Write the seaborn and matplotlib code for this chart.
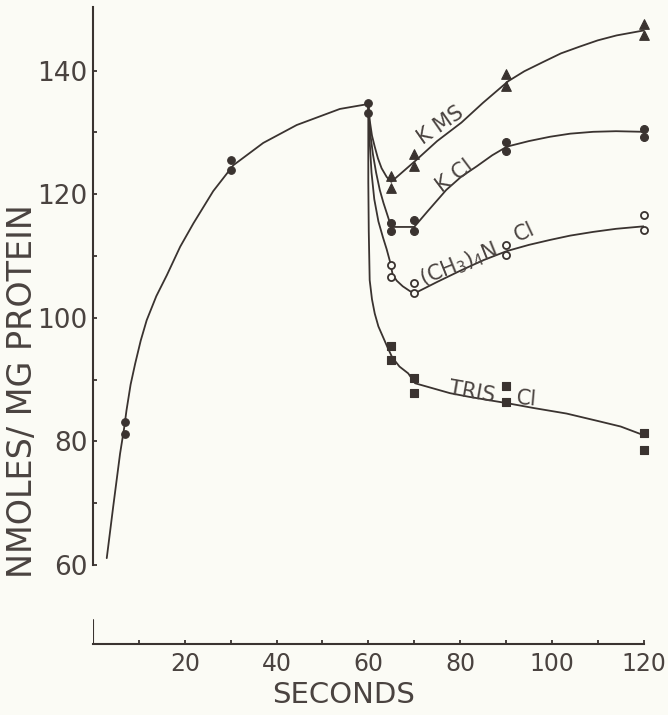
import numpy as np
import pandas as pd
import matplotlib
matplotlib.use("Agg")
import matplotlib.pyplot as plt
import seaborn as sns

# ---------------- data ----------------
# measured duplicates (seconds, nmoles / mg protein)
uptake_t = [7, 7, 30, 30, 60, 60]
uptake_v = [83.1, 81.2, 125.5, 123.9, 134.7, 133.1]

post_t = [65, 65, 70, 70, 90, 90, 120, 120]
kms_v = [122.9, 121.0, 126.5, 124.6, 139.5, 137.5, 147.6, 145.8]
kcl_v = [115.3, 114.0, 115.8, 114.1, 128.5, 127.0, 130.6, 129.3]
tma_v = [108.5, 106.6, 105.6, 104.0, 111.8, 110.2, 116.6, 114.2]
tris_v = [95.5, 93.2, 90.2, 87.9, 88.9, 86.3, 81.3, 78.6]

# hand-drawn fitted curves
init_curve_t = [3.0, 4.4, 5.9, 6.8, 7.3, 8.2, 9.2, 10.4, 11.7, 13.8, 16.1, 19.0,
                21.9, 26.2, 30.6, 37.1, 44.4, 53.8, 60.0]
init_curve_v = [61.1, 69.4, 78.0, 82.2, 85.0, 89.2, 92.6, 96.3, 99.6, 103.5, 106.9,
                111.5, 115.3, 120.5, 124.7, 128.3, 131.2, 133.8, 134.6]

kms_curve_t = [60.0, 60.3, 60.8, 61.4, 62.1, 62.9, 64.0, 65.0, 70.4, 75.0, 80.3,
               85.0, 90.5, 94.0, 98.1, 102.0, 106.1, 110.0, 114.1, 120.0]
kms_curve_v = [134.5, 132.0, 129.5, 127.7, 125.8, 124.2, 122.8, 122.0, 125.5, 128.6,
               131.6, 134.8, 138.3, 139.9, 141.4, 142.8, 143.9, 144.9, 145.7, 146.5]

kcl_curve_t = [60.0, 60.4, 61.0, 61.7, 62.5, 63.3, 64.0, 65.0, 70.0, 73.0, 77.0,
               80.2, 83.6, 87.0, 90.2, 95.0, 99.6, 104.0, 109.0, 114.0, 120.0]
kcl_curve_v = [134.5, 130.0, 126.5, 123.5, 120.7, 118.6, 117.0, 114.7, 114.7, 117.3,
               120.7, 122.8, 124.5, 126.3, 127.7, 128.6, 129.3, 129.8, 130.1, 130.2, 130.1]

tma_curve_t = [60.0, 60.3, 60.7, 61.3, 62.2, 63.2, 64.0, 64.8, 65.3, 66.2, 67.5,
               69.1, 70.2, 75.0, 80.0, 85.0, 90.2, 95.0, 99.6, 104.0, 109.0, 114.0, 120.0]
tma_curve_v = [134.5, 128.5, 123.5, 119.2, 115.6, 113.0, 111.1, 108.9, 107.0, 106.0,
               105.1, 104.3, 104.0, 105.8, 107.6, 109.3, 110.8, 111.8, 112.6, 113.3,
               113.9, 114.4, 114.8]

tris_curve_t = [60.0, 60.0, 60.1, 60.3, 60.8, 61.4, 62.2, 63.2, 64.2, 65.2, 66.8,
                68.7, 70.2, 74.0, 77.8, 82.0, 86.0, 90.1, 96.0, 103.2, 110.0, 115.0, 120.0]
tris_curve_v = [134.5, 122.0, 114.0, 106.1, 103.0, 100.7, 98.6, 96.9, 95.2, 93.6,
                92.1, 91.0, 89.4, 88.6, 87.8, 87.2, 86.7, 86.2, 85.4, 84.5, 83.3, 82.4, 81.0]

x_major = [20, 40, 60, 80, 100, 120]
x_minor = [10, 30, 50, 70, 90, 110]
y_major = [60, 80, 100, 120, 140]
y_minor = [70, 90, 110, 130]

# ---------------- style ----------------
ink = "#3a3330"
text_c = "#4a4340"
bg = "#fbfbf5"

sns.set_theme(style="white")
plt.rcParams["font.family"] = ["DejaVu Sans"]
plt.rcParams["mathtext.fontset"] = "dejavusans"

fig = plt.figure(figsize=(6.68, 7.15), dpi=100, facecolor=bg)
ax = fig.add_axes([0.1392, 0.0993, 0.8243, 0.8909])
ax.set_facecolor(bg)

# curves
frames = []
for name, t, v in [("init", init_curve_t, init_curve_v),
                   ("kms", kms_curve_t, kms_curve_v),
                   ("kcl", kcl_curve_t, kcl_curve_v),
                   ("tma", tma_curve_t, tma_curve_v),
                   ("tris", tris_curve_t, tris_curve_v)]:
    frames.append(pd.DataFrame({"series": name, "t": t, "v": v}))
curves = pd.concat(frames, ignore_index=True)
sns.lineplot(data=curves, x="t", y="v", units="series", estimator=None, sort=False,
             color=ink, lw=1.3, ax=ax, legend=False)

# measured points
sns.scatterplot(x=uptake_t, y=uptake_v, marker="o", s=30, color=ink, edgecolor=ink,
                linewidth=0.8, ax=ax, zorder=3, clip_on=False)
sns.scatterplot(x=post_t, y=kms_v, marker="^", s=48, color=ink, edgecolor=ink,
                linewidth=0.8, ax=ax, zorder=3, clip_on=False)
sns.scatterplot(x=post_t, y=kcl_v, marker="o", s=32, color=ink, edgecolor=ink,
                linewidth=0.8, ax=ax, zorder=3, clip_on=False)
sns.scatterplot(x=post_t, y=tma_v, marker="o", s=26, color=bg, edgecolor=ink,
                linewidth=1.3, ax=ax, zorder=3, clip_on=False)
sns.scatterplot(x=post_t, y=tris_v, marker="s", s=30, color=ink, edgecolor=ink,
                linewidth=0.8, ax=ax, zorder=3, clip_on=False)

# series labels
lab_kw = dict(color=text_c, fontsize=15, ha="center", va="center")
ax.text(75.8, 131.2, "K MS", rotation=35, **lab_kw)
ax.text(78.9, 122.9, "K Cl", rotation=37, **lab_kw)
ax.text(79.7, 108.6, r"(CH$_3$)$_4$N", rotation=22, **lab_kw)
ax.text(94.0, 113.8, "Cl", rotation=25, **lab_kw)
ax.text(82.5, 88.0, "TRIS", rotation=-10, **lab_kw)
ax.text(94.4, 86.9, "Cl", rotation=-5, **lab_kw)

# axes
ax.set_xlim(0, 120)
ax.set_ylim(47.2, 150.3)
ax.set_xticks(x_major)
ax.set_xticks(x_minor, minor=True)
ax.set_yticks(y_major)
ax.set_yticks(y_minor, minor=True)
ax.set_xticklabels([str(v) for v in x_major])
ax.set_yticklabels([str(v) for v in y_major])

for s in ["top", "right"]:
    ax.spines[s].set_visible(False)
for s in ["left", "bottom"]:
    ax.spines[s].set_color(ink)
    ax.spines[s].set_linewidth(1.5)
ax.spines["left"].set_bounds(60, 150.3)
ax.spines["bottom"].set_bounds(0, 120)
ax.axvline(0, 0, 0.038, color=ink, lw=1.5)

ax.tick_params(axis="both", which="both", direction="in", color=ink, width=1.3,
               length=3, labelcolor=text_c)
ax.tick_params(axis="y", which="both", pad=4, left=True, labelsize=19)
ax.tick_params(axis="x", which="both", pad=6, bottom=True, labelsize=17)

ax.set_xlabel("SECONDS", fontsize=21, color=text_c, va="top")
ax.xaxis.set_label_coords(0.4555, -0.0585)
ax.set_ylabel("NMOLES/ MG PROTEIN", fontsize=24, color=text_c, va="center")
ax.yaxis.set_label_coords(-0.128, 0.397)

fig.savefig("out.png", dpi=100, facecolor=bg)
